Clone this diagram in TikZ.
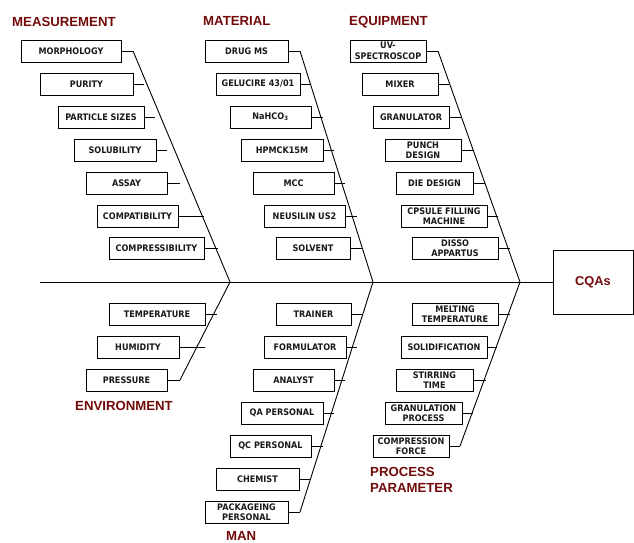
\documentclass[tikz,border=0pt]{standalone}
\usepackage{fontspec}
\setmainfont{DejaVu Sans}
\newfontfamily\labelfam{DejaVu Sans}[FakeStretch=0.9]
\newfontfamily\headfont{Liberation Sans}[BoldFont={* Bold}]
\definecolor{titlered}{RGB}{115,10,10}
\definecolor{labelink}{RGB}{25,25,25}
\newcommand{\boxfont}{\labelfam\bfseries\fontsize{9}{10.5}\selectfont}
\newcommand{\titlefont}{\headfont\bfseries\fontsize{13.2}{14.5}\selectfont}
\begin{document}
\begin{tikzpicture}[x=1pt,y=-1pt,
  cause/.style={draw, line width=0.9pt, minimum height=22pt, inner sep=0pt,
    align=center, font=\boxfont, text=labelink},
  heading/.style={anchor=west, inner sep=0pt, font=\titlefont, text=titlered, align=left},
  bone/.style={line width=0.9pt}]
\useasboundingbox (0,0) rectangle (634,542);

% effect box and spine
\node[draw, line width=0.9pt, minimum width=80pt, minimum height=64pt,
      font=\headfont\bfseries\fontsize{12.8}{14}\selectfont, text=titlered]
      (cqa) at (593,282) {CQAs};
\coordinate (tail) at (40,282);
\draw[bone] (tail) -- (cqa.west);

% joints on the spine, tops and bottoms of the ribs
\coordinate (jA) at (230,282);
\coordinate (jB) at (373,282);
\coordinate (jC) at (520,282);
\coordinate (tA) at (133,51);
\coordinate (tB) at (300,51);
\coordinate (tC) at (438,51);
\coordinate (bA) at (180,380);
\coordinate (bB) at (300,512);
\coordinate (bC) at (460,446);

\draw[bone] (tA) -- (jA) -- (bA);
\draw[bone] (tB) -- (jB) -- (bB);
\draw[bone] (tC) -- (jC) -- (bC);

% headings
\node[heading] (hMeas) at (12,22) {MEASUREMENT};
\node[heading] (hMat)  at (203,21) {MATERIAL};
\node[heading] (hEq)   at (349,22) {EQUIPMENT};
\node[heading] (hEnv)  at (75,406) {ENVIRONMENT};
\node[heading] (hMan)  at (226,536) {MAN};
\node[heading] (hPP1)  at (370,472) {PROCESS};
\node[heading] (hPP2)  at (370,488) {PARAMETER};

% measurement
\node[cause, minimum width=100pt] (m1) at (71,51)    {MORPHOLOGY};
\node[cause, minimum width=93pt]  (m2) at (86.5,84)  {PURITY};
\node[cause, minimum width=86pt]  (m3) at (101,117)  {PARTICLE SIZES};
\node[cause, minimum width=82pt]  (m4) at (115,150)  {SOLUBILITY};
\node[cause, minimum width=81pt]  (m5) at (126.5,183){ASSAY};
\node[cause, minimum width=81pt]  (m6) at (137.5,216){COMPATIBILITY};
\node[cause, minimum width=95pt]  (m7) at (156.5,248){COMPRESSIBILITY};
\draw[bone] (m1.east) -- (tA);
\draw[bone] (m2.east) -- +(11,0);
\draw[bone] (m3.east) -- +(11,0);
\draw[bone] (m4.east) -- +(11,0);
\draw[bone] (m5.east) -- +(13,0);
\draw[bone] (m6.east) -- +(26,0);
\draw[bone] (m7.east) -- +(14,0);

% material
\node[cause, minimum width=83pt] (k1) at (246.5,51) {DRUG MS};
\node[cause, minimum width=84pt] (k2) at (258,84)   {GELUCIRE 43/01};
\node[cause, minimum width=81pt] (k3) at (270.5,117){NaHCO\textsubscript{3}};
\node[cause, minimum width=82pt] (k4) at (282,150)  {HPMCK15M};
\node[cause, minimum width=81pt] (k5) at (293.5,183){MCC};
\node[cause, minimum width=81pt] (k6) at (304.5,216){NEUSILIN US2};
\node[cause, minimum width=74pt] (k7) at (313,248)  {SOLVENT};
\draw[bone] (k1.east) -- (tB);
\draw[bone] (k2.east) -- +(11,0);
\draw[bone] (k3.east) -- +(12,0);
\draw[bone] (k4.east) -- +(11,0);
\draw[bone] (k5.east) -- +(11,0);
\draw[bone] (k6.east) -- +(12,0);
\draw[bone] (k7.east) -- +(13,0);

% equipment
\node[cause, minimum width=76pt] (e1) at (388,51)   {UV-\\SPECTROSCOP};
\node[cause, minimum width=76pt] (e2) at (400,84)   {MIXER};
\node[cause, minimum width=76pt] (e3) at (411,117)  {GRANULATOR};
\node[cause, minimum width=76pt] (e4) at (423,150)  {PUNCH\\DESIGN};
\node[cause, minimum width=77pt] (e5) at (434.5,183){DIE DESIGN};
\node[cause, minimum width=86pt] (e6) at (444,216)  {CPSULE FILLING\\MACHINE};
\node[cause, minimum width=86pt] (e7) at (455,248)  {DISSO\\APPARTUS};
\draw[bone] (e1.east) -- (tC);
\draw[bone] (e2.east) -- +(11,0);
\draw[bone] (e3.east) -- +(12,0);
\draw[bone] (e4.east) -- +(12,0);
\draw[bone] (e5.east) -- +(12,0);
\draw[bone] (e6.east) -- +(11,0);
\draw[bone] (e7.east) -- +(12,0);

% environment
\node[cause, minimum width=96pt] (v1) at (157,314)   {TEMPERATURE};
\node[cause, minimum width=82pt] (v2) at (138,347)   {HUMIDITY};
\node[cause, minimum width=81pt] (v3) at (126.5,380) {PRESSURE};
\draw[bone] (v1.east) -- +(12,0);
\draw[bone] (v2.east) -- +(26,0);
\draw[bone] (v3.east) -- (bA);

% man
\node[cause, minimum width=75pt] (n1) at (313.5,314) {TRAINER};
\node[cause, minimum width=82pt] (n2) at (305,347)   {FORMULATOR};
\node[cause, minimum width=81pt] (n3) at (293.5,380) {ANALYST};
\node[cause, minimum width=82pt] (n4) at (282,413)   {QA PERSONAL};
\node[cause, minimum width=81pt] (n5) at (270.5,446) {QC PERSONAL};
\node[cause, minimum width=83pt] (n6) at (257.5,479) {CHEMIST};
\node[cause, minimum width=83pt] (n7) at (246.5,512) {PACKAGEING\\PERSONAL};
\draw[bone] (n1.east) -- +(12,0);
\draw[bone] (n2.east) -- +(11,0);
\draw[bone] (n3.east) -- +(11,0);
\draw[bone] (n4.east) -- +(11,0);
\draw[bone] (n5.east) -- +(12,0);
\draw[bone] (n6.east) -- +(12,0);
\draw[bone] (n7.east) -- (bB);

% process parameter
\node[cause, minimum width=86pt] (p1) at (455,314)   {MELTING\\TEMPERATURE};
\node[cause, minimum width=86pt] (p2) at (444,347)   {SOLIDIFICATION};
\node[cause, minimum width=77pt] (p3) at (434.5,380) {STIRRING\\TIME};
\node[cause, minimum width=77pt] (p4) at (423.5,413) {GRANULATION\\PROCESS};
\node[cause, minimum width=76pt] (p5) at (411,446)   {COMPRESSION\\FORCE};
\draw[bone] (p1.east) -- +(12,0);
\draw[bone] (p2.east) -- +(10,0);
\draw[bone] (p3.east) -- +(13,0);
\draw[bone] (p4.east) -- +(11,0);
\draw[bone] (p5.east) -- (bC);
\end{tikzpicture}
\end{document}
